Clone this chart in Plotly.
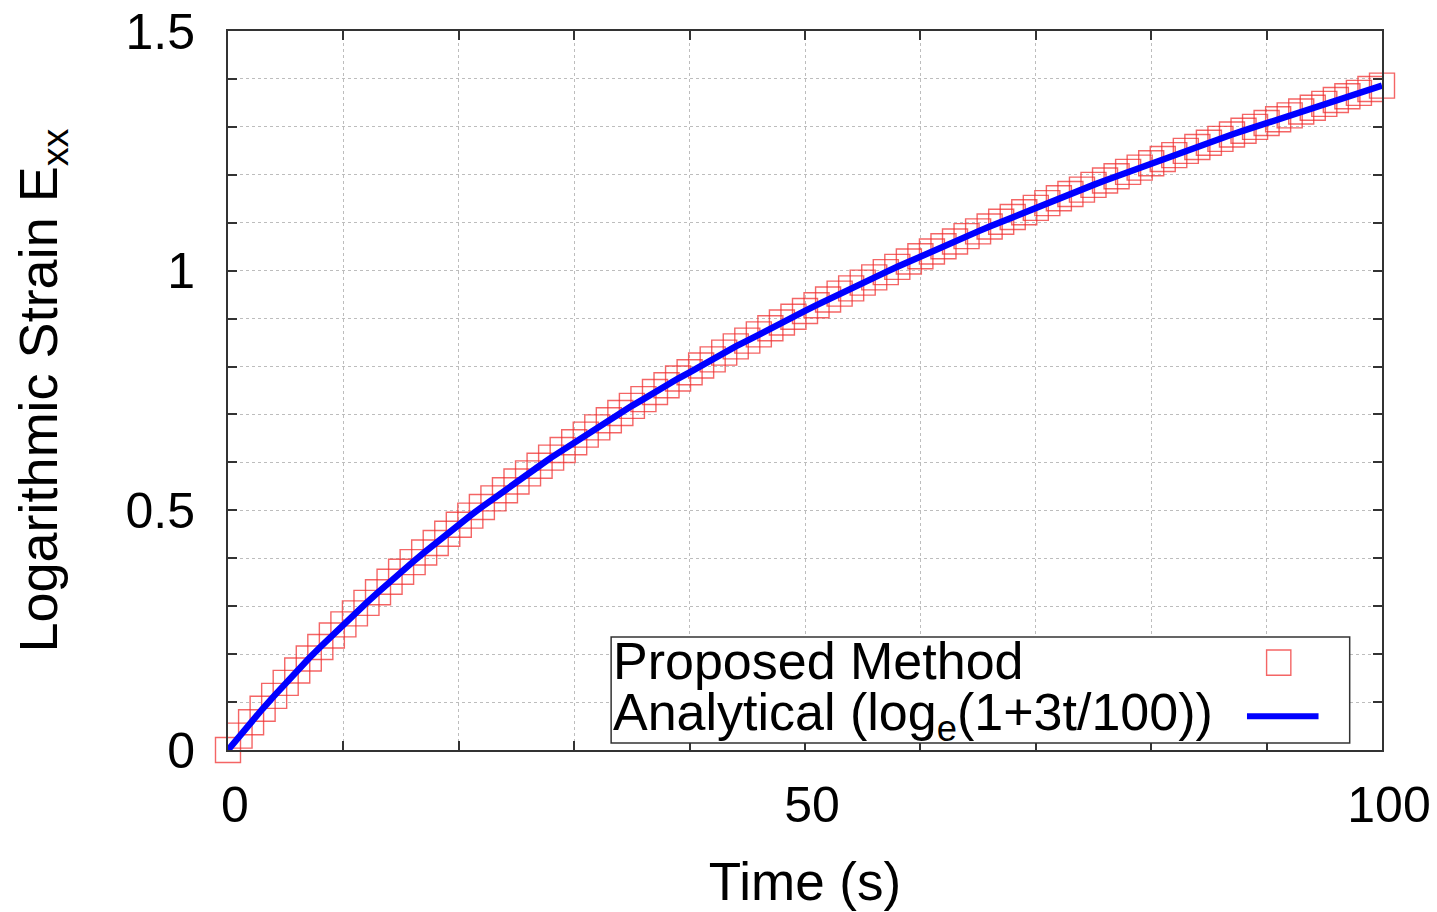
import plotly.graph_objects as go

time_s = list(range(0, 101))
proposed = [0.000, 0.030, 0.058, 0.086, 0.113, 0.140, 0.166, 0.191, 0.215, 0.239,
            0.262, 0.285, 0.307, 0.329, 0.351, 0.372, 0.392, 0.412, 0.432, 0.451,
            0.470, 0.489, 0.507, 0.525, 0.542, 0.560, 0.577, 0.593, 0.610, 0.626,
            0.642, 0.658, 0.673, 0.688, 0.703, 0.718, 0.732, 0.747, 0.761, 0.775,
            0.788, 0.802, 0.815, 0.829, 0.842, 0.854, 0.867, 0.880, 0.892, 0.904,
            0.916, 0.928, 0.940, 0.952, 0.963, 0.975, 0.986, 0.997, 1.008, 1.019,
            1.030, 1.040, 1.051, 1.061, 1.072, 1.082, 1.092, 1.102, 1.112, 1.122,
            1.131, 1.141, 1.151, 1.160, 1.169, 1.179, 1.188, 1.197, 1.206, 1.215,
            1.224, 1.233, 1.241, 1.250, 1.258, 1.267, 1.275, 1.284, 1.292, 1.300,
            1.308, 1.316, 1.324, 1.332, 1.340, 1.348, 1.356, 1.364, 1.371, 1.379,
            1.386]
analytical = proposed[:]

x_ticks = [0, 50, 100]
x_ticktext = ["0", "50", "100"]
y_ticks = [0, 0.5, 1.0, 1.5]
y_ticktext = ["0", "0.5", "1", "1.5"]

FONT = "Liberation Sans, Arial, sans-serif"
marker_color = "rgba(240,50,50,0.75)"

fig = go.Figure()
fig.add_trace(go.Scatter(
    x=time_s, y=proposed, mode="markers", name="Proposed Method",
    marker=dict(symbol="square-open", size=25, color=marker_color,
                line=dict(width=1.4, color=marker_color)),
    cliponaxis=False, showlegend=False))
fig.add_trace(go.Scatter(
    x=time_s, y=analytical, mode="lines", name="Analytical",
    line=dict(color="#0000ff", width=6.5), showlegend=False))

grid = dict(gridcolor="#bdbdbd", griddash="dot", gridwidth=1)
axis_common = dict(
    showline=True, linecolor="#333333", linewidth=2, mirror="allticks",
    ticks="inside", ticklen=9, tickwidth=1.5, tickcolor="#333333",
    showgrid=True, zeroline=False, automargin=False, ticklabeloverflow="allow",
    tickfont=dict(family=FONT, size=50, color="black"), **grid,
)

fig.update_xaxes(range=[0, 100], tickmode="array", tickvals=x_ticks, ticktext=x_ticktext,
                 ticklabelstandoff=10, ticklabelshift=7,
                 minor=dict(dtick=10, ticks="inside", ticklen=9, tickwidth=1.5, tickcolor="#333333",
                            showgrid=True, **grid),
                 title=dict(text="Time (s)", font=dict(family=FONT, size=53, color="black"), standoff=31),
                 **axis_common)
fig.update_yaxes(range=[0, 1.5], tickmode="array", tickvals=y_ticks, ticktext=y_ticktext,
                 ticklabelstandoff=21,
                 minor=dict(dtick=0.1, ticks="inside", ticklen=9, tickwidth=1.5, tickcolor="#333333",
                            showgrid=True, **grid),
                 title=dict(text="Logarithmic Strain E<sub>xx</sub>",
                            font=dict(family=FONT, size=54, color="black"), standoff=55),
                 **axis_common)

# gnuplot-style key
fig.add_shape(type="rect", xref="paper", yref="paper", x0=0.332, x1=0.972, y0=0.0097, y1=0.157,
              line=dict(color="#333333", width=1.5), fillcolor="white", layer="above")
fig.add_annotation(xref="paper", yref="paper", x=0.3315, y=0.124, xanchor="left", yanchor="middle",
                   text="Proposed Method", showarrow=False,
                   font=dict(family=FONT, size=52, color="black"))
fig.add_annotation(xref="paper", yref="paper", x=0.3315, y=0.047, xanchor="left", yanchor="middle",
                   text="Analytical (log<sub>e</sub>(1+3t/100))", showarrow=False,
                   font=dict(family=FONT, size=52, color="black"))
fig.add_shape(type="rect", xref="paper", yref="paper", x0=0.9, x1=0.921, y0=0.104, y1=0.139,
              line=dict(color=marker_color, width=1.4), layer="above")
fig.add_shape(type="line", xref="paper", yref="paper", x0=0.883, x1=0.945, y0=0.047, y1=0.047,
              line=dict(color="#0000ff", width=6), layer="above")

fig.update_layout(
    width=1437, height=912,
    margin=dict(l=220, r=63, t=23, b=170),
    paper_bgcolor="white", plot_bgcolor="white",
    font=dict(family=FONT, color="black"),
    showlegend=False,
)

fig.write_html("out.html")
